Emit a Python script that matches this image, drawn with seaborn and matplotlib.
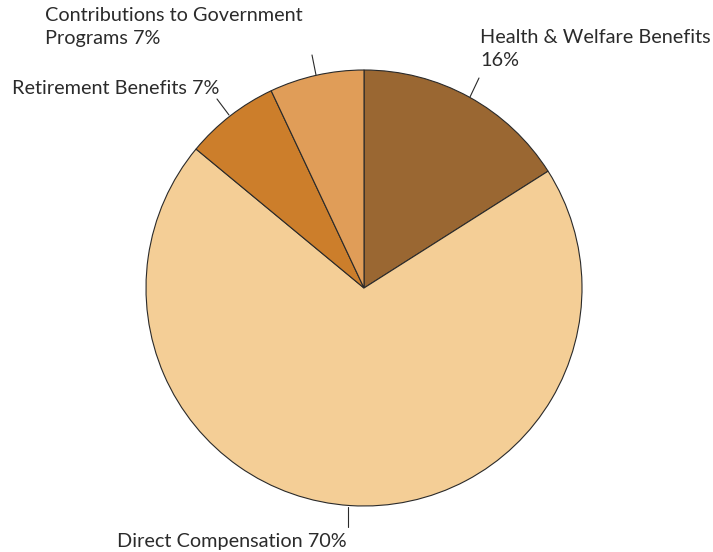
import matplotlib
matplotlib.use("Agg")
import matplotlib.pyplot as plt
import seaborn as sns

categories = ["Health & Welfare Benefits", "Direct Compensation", "Retirement Benefits",
              "Contributions to Government Programs"]
values = [16, 70, 7, 7]
labels = ["Health & Welfare Benefits\n16%", "Direct Compensation 70%",
          "Retirement Benefits 7%", "Contributions to Government\nPrograms 7%"]
colors = ["#9A6732", "#F4CE96", "#CC7E2B", "#E09D58"]

sns.set_theme(style="white")
plt.rcParams['font.family'] = ['Lato', 'DejaVu Sans']

W, H = 713, 552
fig = plt.figure(figsize=(W / 100, H / 100), dpi=100)
ax = fig.add_axes([0, 0, 1, 1])

cx, cy, r = 364, H - 288, 218
ax.pie(values, colors=colors, startangle=90, counterclock=False,
       center=(cx, cy), radius=r,
       wedgeprops=dict(edgecolor="#2a2a2a", linewidth=0.8))
ax.set_xlim(0, W)
ax.set_ylim(0, H)
ax.set_aspect("equal")
ax.axis("off")

def y(v):
    return H - v

# leader lines (image coords)
leaders = [((470, 97), (479, 78)), ((348, 507), (348, 527)),
           ((229, 115), (217, 99)), ((316, 75), (312, 55))]
for (x0, y0), (x1, y1) in leaders:
    ax.plot([x0, x1], [y(y0), y(y1)], color="#2a2a2a", lw=0.8)

txt = dict(fontsize=14.3, color="#2b2b2b", linespacing=1.45)
ax.text(480, y(29), labels[0], ha="left", va="top", **txt)
ax.text(117, y(541), labels[1], ha="left", va="center", **txt)
ax.text(12, y(88), labels[2], ha="left", va="center", **txt)
ax.text(45, y(7), labels[3], ha="left", va="top", **txt)

fig.savefig("out.png", dpi=100)
